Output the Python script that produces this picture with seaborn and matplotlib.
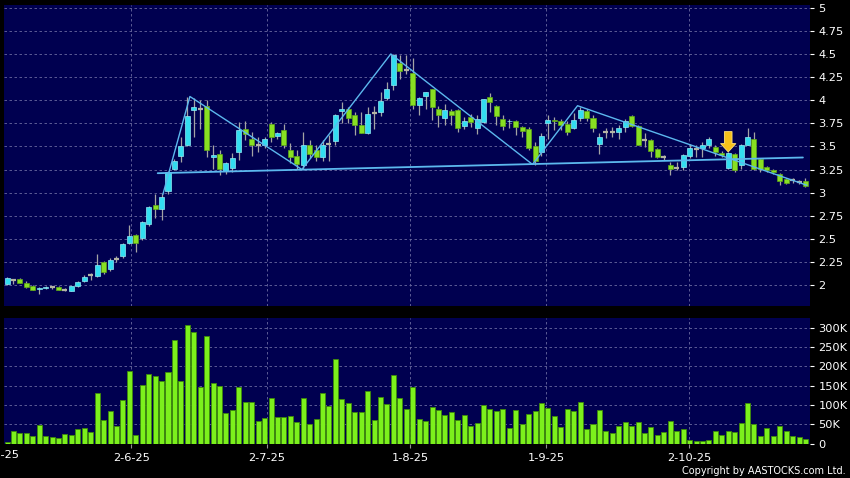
import numpy as np
import pandas as pd
import matplotlib
matplotlib.use("Agg")
import matplotlib.pyplot as plt
import seaborn as sns

# daily candles (one per trading day)
opens = [2.01, 2.05, 2.06, 2.02, 1.99, 1.96, 1.965, 1.98, 1.98, 1.95,
         1.94, 1.99, 2.04, 2.11, 2.10, 2.25, 2.17, 2.28, 2.31, 2.45,
         2.54, 2.51, 2.66, 2.87, 2.82, 3.02, 3.26, 3.40, 3.51, 3.89,
         3.91, 3.94, 3.38, 3.42, 3.23, 3.27, 3.44, 3.69, 3.58, 3.52,
         3.52, 3.74, 3.61, 3.68, 3.46, 3.40, 3.30, 3.51, 3.46, 3.39,
         3.53, 3.56, 3.88, 3.91, 3.84, 3.73, 3.65, 3.86, 3.87, 4.02,
         4.16, 4.40, 4.33, 4.29, 3.95, 4.05, 4.12, 3.90, 3.81, 3.88,
         3.89, 3.72, 3.82, 3.70, 3.76, 4.03, 3.94, 3.80, 3.77, 3.78,
         3.71, 3.69, 3.50, 3.44, 3.75, 3.79, 3.78, 3.74, 3.70, 3.81,
         3.88, 3.81, 3.53, 3.66, 3.66, 3.66, 3.71, 3.83, 3.72, 3.57,
         3.57, 3.47, 3.38, 3.30, 3.27, 3.28, 3.40, 3.47, 3.48, 3.52,
         3.49, 3.43, 3.27, 3.42, 3.30, 3.52, 3.58, 3.36, 3.28, 3.25,
         3.20, 3.15, 3.14, 3.11, 3.13]
closes = [2.08, 2.05, 2.02, 1.98, 1.95, 1.97, 1.975, 1.98, 1.95, 1.95,
          1.985, 2.03, 2.09, 2.11, 2.22, 2.14, 2.27, 2.28, 2.44, 2.53,
          2.45, 2.68, 2.84, 2.82, 2.95, 3.22, 3.34, 3.50, 3.83, 3.93,
          3.91, 3.46, 3.41, 3.26, 3.32, 3.37, 3.68, 3.63, 3.51, 3.52,
          3.58, 3.60, 3.64, 3.52, 3.38, 3.31, 3.51, 3.42, 3.38, 3.51,
          3.53, 3.84, 3.91, 3.81, 3.73, 3.65, 3.85, 3.86, 3.99, 4.12,
          4.49, 4.32, 4.33, 3.95, 4.02, 4.09, 3.93, 3.84, 3.89, 3.84,
          3.70, 3.78, 3.76, 3.80, 4.01, 3.98, 3.83, 3.72, 3.78, 3.71,
          3.67, 3.48, 3.34, 3.61, 3.79, 3.77, 3.73, 3.66, 3.79, 3.89,
          3.81, 3.70, 3.60, 3.66, 3.66, 3.70, 3.78, 3.72, 3.52, 3.57,
          3.45, 3.38, 3.38, 3.26, 3.27, 3.41, 3.48, 3.47, 3.52, 3.58,
          3.44, 3.41, 3.43, 3.25, 3.52, 3.60, 3.26, 3.26, 3.24, 3.22,
          3.13, 3.10, 3.14, 3.11, 3.07]
highs = [2.09, 2.07, 2.08, 2.04, 2.00, 1.98, 1.99, 1.99, 1.99, 1.97,
         1.99, 2.04, 2.11, 2.13, 2.34, 2.26, 2.29, 2.31, 2.45, 2.65,
         2.55, 2.69, 2.86, 2.99, 3.00, 3.23, 3.36, 3.60, 4.03, 4.02,
         4.00, 4.00, 3.52, 3.46, 3.33, 3.43, 3.76, 3.78, 3.66, 3.60,
         3.60, 3.76, 3.66, 3.74, 3.54, 3.46, 3.66, 3.57, 3.52, 3.57,
         3.62, 3.85, 3.98, 3.93, 3.87, 3.87, 3.93, 3.94, 4.09, 4.20,
         4.50, 4.49, 4.49, 4.46, 4.03, 4.09, 4.12, 3.94, 3.96, 3.91,
         3.90, 3.82, 3.85, 3.84, 4.01, 4.08, 3.95, 3.84, 3.80, 3.79,
         3.72, 3.71, 3.55, 3.64, 3.84, 3.82, 3.80, 3.77, 3.86, 3.93,
         3.91, 3.84, 3.65, 3.70, 3.71, 3.73, 3.80, 3.84, 3.73, 3.64,
         3.58, 3.48, 3.41, 3.33, 3.33, 3.42, 3.53, 3.52, 3.55, 3.60,
         3.51, 3.45, 3.44, 3.43, 3.53, 3.70, 3.66, 3.37, 3.29, 3.26,
         3.21, 3.16, 3.16, 3.14, 3.16]
lows = [2.00, 2.01, 2.02, 1.97, 1.95, 1.90, 1.96, 1.96, 1.945, 1.93,
        1.93, 1.98, 2.03, 2.05, 2.09, 2.12, 2.15, 2.25, 2.29, 2.44,
        2.36, 2.49, 2.64, 2.73, 2.70, 2.99, 3.24, 3.33, 3.50, 3.60,
        3.69, 3.39, 3.26, 3.19, 3.20, 3.22, 3.35, 3.57, 3.40, 3.44,
        3.48, 3.55, 3.58, 3.48, 3.32, 3.26, 3.26, 3.37, 3.34, 3.34,
        3.34, 3.52, 3.75, 3.75, 3.62, 3.64, 3.63, 3.69, 3.83, 4.00,
        4.11, 4.23, 4.28, 3.91, 3.84, 3.91, 3.79, 3.71, 3.73, 3.73,
        3.66, 3.69, 3.71, 3.63, 3.75, 3.87, 3.73, 3.68, 3.70, 3.62,
        3.60, 3.46, 3.30, 3.40, 3.58, 3.68, 3.68, 3.62, 3.69, 3.78,
        3.78, 3.66, 3.42, 3.59, 3.60, 3.58, 3.66, 3.71, 3.51, 3.49,
        3.38, 3.37, 3.35, 3.19, 3.24, 3.25, 3.37, 3.39, 3.39, 3.48,
        3.40, 3.38, 3.26, 3.22, 3.26, 3.51, 3.24, 3.22, 3.22, 3.20,
        3.08, 3.09, 3.10, 3.09, 3.06]
volumes_k = [4, 34, 27, 28, 21, 49, 21, 17, 15, 26,
             23, 38, 41, 31, 131, 60, 85, 47, 114, 187,
             23, 153, 179, 174, 162, 186, 269, 161, 306, 288,
             146, 279, 157, 148, 80, 87, 147, 109, 109, 59,
             67, 118, 68, 68, 71, 57, 119, 51, 64, 130,
             97, 219, 116, 104, 83, 83, 137, 61, 121, 103,
             177, 119, 89, 147, 64, 58, 96, 87, 74, 82,
             62, 74, 46, 54, 100, 89, 84, 89, 40, 87,
             51, 78, 85, 104, 93, 72, 43, 89, 85, 107,
             38, 50, 87, 34, 28, 46, 57, 47, 56, 28,
             42, 23, 30, 58, 32, 38, 9, 7, 7, 9,
             33, 22, 34, 29, 53, 104, 52, 20, 41, 21,
             45, 33, 21, 17, 11]

date_labels = ["2-5-25", "2-6-25", "2-7-25", "1-8-25", "1-9-25", "2-10-25"]
date_pos = [-1, 19.3, 40.4, 62.6, 83.7, 105.9]

price_ticks = [2, 2.25, 2.5, 2.75, 3, 3.25, 3.5, 3.75, 4, 4.25, 4.5, 4.75, 5]
price_labels = ["2", "2.25", "2.5", "2.75", "3", "3.25", "3.5", "3.75",
                "4", "4.25", "4.5", "4.75", "5"]
vol_ticks = [0, 50, 100, 150, 200, 250, 300]
vol_labels = ["0", "50K", "100K", "150K", "200K", "250K", "300K"]

# pattern lines drawn on the chart (bar index, price)
zigzag_x = [24.2, 28.4, 45.8, 59.6, 81.6, 88.6, 124.2]
zigzag_y = [2.98, 4.04, 3.25, 4.50, 3.305, 3.94, 3.08]
neck_x = [23.4, 123.6]
neck_y = [3.21, 3.38]
arrow_bar = 112
arrow_from, arrow_to = 3.66, 3.44

BG = "#000050"
UP = "#33DDF0"
DOWN = "#88E022"
FLAT = "#B4B4A4"
WICK = "#A4A4A4"
VOL = "#7CF01C"
VOL_EDGE = "#3E8A0A"
GRID = "#6A6AA0"
LINE = "#5CB8EE"

df = pd.DataFrame({"open": opens, "high": highs, "low": lows,
                   "close": closes, "volume": volumes_k})
df["idx"] = np.arange(len(df))

sns.set_style("dark", {"axes.facecolor": BG, "figure.facecolor": "black"})
plt.rcParams["font.family"] = ["DejaVu Sans"]

fig = plt.figure(figsize=(8.5, 4.78), dpi=100)
ax = fig.add_axes([4 / 850, 1 - 306 / 478, 806 / 850, 301 / 478])
axv = fig.add_axes([4 / 850, 1 - 444 / 478, 806 / 850, 126 / 478])

xmin, xmax = -0.47, 124.7
w = 0.78

# candles
up = df[df["close"] > df["open"]]
down = df[df["close"] < df["open"]]
flat = df[df["close"] == df["open"]]

ax.vlines(df["idx"], df["low"], df["high"], color=WICK, linewidth=0.9, zorder=3)
ax.bar(up["idx"], up["close"] - up["open"], bottom=up["open"], width=w,
       color=UP, edgecolor="#8FEAF6", linewidth=0.5, zorder=4)
ax.bar(down["idx"], down["open"] - down["close"], bottom=down["close"], width=w,
       color=DOWN, edgecolor="#5FA818", linewidth=0.5, zorder=4)
ax.hlines(flat["close"], flat["idx"] - w / 2, flat["idx"] + w / 2,
          color=FLAT, linewidth=1.6, zorder=4)

# pattern lines
ax.plot(zigzag_x, zigzag_y, color=LINE, linewidth=1.0, zorder=5)
ax.plot(neck_x, neck_y, color=LINE, linewidth=1.3, zorder=5)

ax.annotate("", xy=(arrow_bar, arrow_to), xytext=(arrow_bar, arrow_from),
            arrowprops=dict(arrowstyle="simple,head_length=0.6,head_width=1.1,tail_width=0.55",
                            fc="#F6C11A", ec="#FFE27A", lw=0.6,
                            shrinkA=0, shrinkB=0, mutation_scale=10),
            zorder=6)

ax.set_xlim(xmin, xmax)
ax.set_ylim(1.773, 5.03)

# volume
sns.barplot(data=df, x="idx", y="volume", color=VOL, edgecolor=VOL_EDGE,
            linewidth=0.6, width=w, saturation=1, errorbar=None, ax=axv)
axv.set_xlim(xmin, xmax)
axv.set_ylim(-0.8, 325)

for a, ticks, labels in [(ax, price_ticks, price_labels), (axv, vol_ticks, vol_labels)]:
    a.yaxis.tick_right()
    a.set_yticks(ticks)
    a.set_yticklabels(labels)
    a.set_xticks(date_pos[1:])
    a.set_xlabel("")
    a.set_ylabel("")
    a.tick_params(axis="y", colors="white", labelsize=8.2, length=3,
                  width=0.8, pad=3, direction="out", right=True, left=False)
    a.grid(True, color=GRID, linestyle=(0, (3, 3)), linewidth=0.6)
    a.set_axisbelow(True)
    for s in a.spines.values():
        s.set_visible(False)

ax.tick_params(axis="x", bottom=False, labelbottom=False)
axv.set_xticklabels(date_labels[1:])
axv.tick_params(axis="x", colors="white", labelsize=8.2, length=3, width=0.8,
                pad=3.5, bottom=True, color="#909090")
axv.xaxis.grid(True, color=GRID, linestyle=(0, (3, 3)), linewidth=0.6)

# first month label sits off the left edge, only its tail shows
axv.text(date_pos[0], -0.045, date_labels[0], transform=axv.get_xaxis_transform(),
         ha="center", va="top", color="white", fontsize=8.2, clip_on=False)

fig.text(0.995, 0.009, "Copyright by AASTOCKS.com Ltd.", color="white",
         fontsize=7, ha="right", va="baseline")

plt.savefig("out.png", dpi=100, facecolor="black")
